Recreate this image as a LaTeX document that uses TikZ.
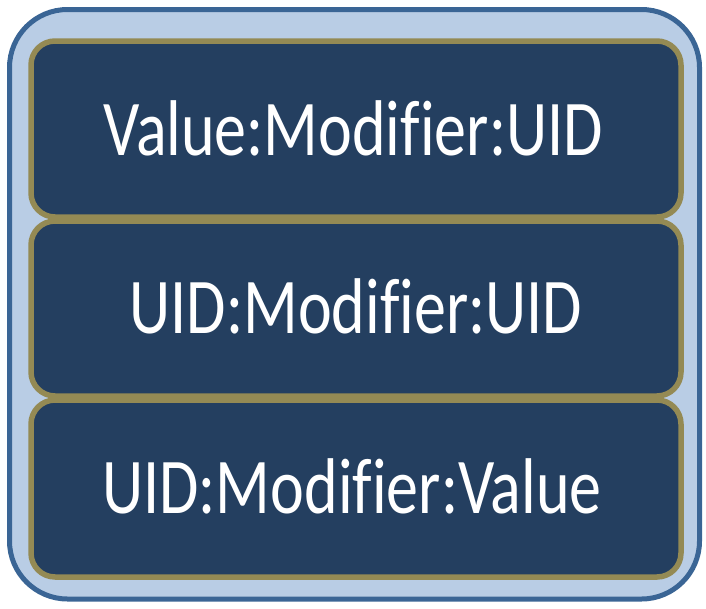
\documentclass[tikz,border=0pt]{standalone}
\usepackage{fontspec}
\setmainfont[Ligatures=NoCommon,FakeStretch=0.81]{Carlito}
\definecolor{outerblue}{HTML}{3A6595}
\definecolor{outerfill}{HTML}{B9CDE5}
\definecolor{navy}{HTML}{243F60}
\definecolor{olive}{HTML}{948A54}
\begin{document}
\begin{tikzpicture}[x=1pt,y=-1pt,
  layerbox/.style={draw=olive, line width=5.5pt, fill=navy, rounded corners=24pt},
  layertext/.style={text=white, anchor=base, inner sep=0pt, font=\fontsize{79}{86}\selectfont}]
\useasboundingbox (0,0) rectangle (706,608);
\draw[draw=outerblue, line width=5pt, fill=outerfill, rounded corners=58pt] (9.5,9.5) rectangle (699.5,599);
\draw[layerbox] (31,41) rectangle (681,217);
\draw[layerbox] (31,221) rectangle (681,396);
\draw[layerbox] (31,400) rectangle (681,577);
\node[layertext] (t1) at (353,155) {Value:Modifier:UID};
\node[layertext] (t2) at (356,333) {UID:Modifier:UID};
\node[layertext] (t3) at (352,513) {UID:Modifier:Value};
\end{tikzpicture}
\end{document}
